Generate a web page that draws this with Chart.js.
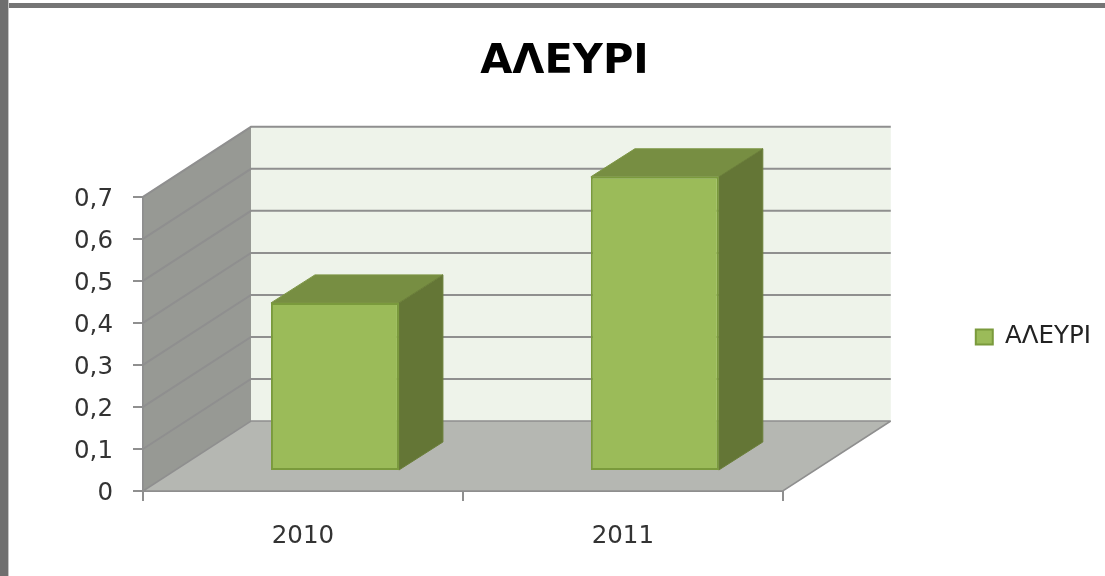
<!DOCTYPE html>
<html><head><meta charset="utf-8">
<style>
html,body{margin:0;padding:0;background:#fff;overflow:hidden}
#wrap{position:relative;width:1105px;height:576px}
canvas{position:absolute;left:0;top:0}
#t{position:absolute;left:0;top:3px;width:1105px;height:5px;background:#757575}
#l{position:absolute;left:0;top:0;width:8px;height:576px;background:#6f6f6f;border-right:1px solid #c4c4c4}
</style>
<script src="https://cdn.jsdelivr.net/npm/chart.js@4/dist/chart.umd.min.js"></script>
</head><body><div id="wrap"><div id="t"></div><div id="l"></div><canvas id="c" width="1105" height="576"></canvas></div>
<script>
const titleText = 'ΑΛΕΥΡΙ';
const categories = ['2010', '2011'];
const seriesName = 'ΑΛΕΥΡΙ';
const seriesValues = [0.4, 0.7];
const yTickLabels = ['0', '0,1', '0,2', '0,3', '0,4', '0,5', '0,6', '0,7'];

const wallDepth = {x: 108, y: -70};
const barShift = {x: 32, y: -20};
const barDepth = {x: 44, y: -28};
const axisFont = {family: '"DejaVu Sans"', size: 24.5};

function poly(ctx, pts, fill, stroke, lw) {
  ctx.beginPath();
  pts.forEach((p, i) => i ? ctx.lineTo(p[0], p[1]) : ctx.moveTo(p[0], p[1]));
  ctx.closePath();
  if (fill) { ctx.fillStyle = fill; ctx.fill(); }
  if (stroke) { ctx.strokeStyle = stroke; ctx.lineWidth = lw || 1; ctx.stroke(); }
}

const scene3d = {
  id: 'scene3d',
  afterLayout(chart) { chart.legend.top -= 14; },
  beforeDatasetsDraw(chart) {
    const ctx = chart.ctx, a = chart.chartArea, ys = chart.scales.y;
    const dx = wallDepth.x, dy = wallDepth.y, L = a.left, R = a.right, T = a.top, B = a.bottom;
    ctx.save();
    poly(ctx, [[L + dx, T + dy], [R + dx, T + dy], [R + dx, B + dy], [L + dx, B + dy]], '#eef3ea');
    poly(ctx, [[L, T], [L + dx, T + dy], [L + dx, B + dy], [L, B]], '#979994');
    poly(ctx, [[L, B], [L + dx, B + dy], [R + dx, B + dy], [R, B]], '#b5b7b2');
    ctx.strokeStyle = '#8f8f8f';
    ctx.lineWidth = 2;
    yTickLabels.forEach((_, i) => {
      const y = ys.getPixelForValue(i / 10);
      if (i > 0) {
        ctx.beginPath();
        ctx.moveTo(L, y); ctx.lineTo(L + dx, y + dy); ctx.lineTo(R + dx, y + dy);
        ctx.stroke();
      }
    });
    ctx.lineWidth = 1.5;
    ctx.beginPath();
    ctx.moveTo(L, T); ctx.lineTo(L, B); ctx.lineTo(R, B); ctx.lineTo(R + dx, B + dy);
    ctx.moveTo(L, B); ctx.lineTo(L + dx, B + dy); ctx.lineTo(R + dx, B + dy);
    ctx.stroke();
    ctx.restore();

    ctx.save();
    ctx.translate(barShift.x, barShift.y);
    chart.getDatasetMeta(0).data.forEach(b => {
      const l = b.x - b.width / 2, r = b.x + b.width / 2, t = b.y, bt = b.base;
      const ox = barDepth.x, oy = barDepth.y;
      poly(ctx, [[l, t], [l + ox, t + oy], [r + ox, t + oy], [r, t]], '#778e42', '#7d9645', 1);
      poly(ctx, [[r, t], [r + ox, t + oy], [r + ox, bt + oy], [r, bt]], '#647636', '#6b7f3a', 1);
    });
  },
  afterDatasetsDraw(chart) { chart.ctx.restore(); }
};

new Chart(document.getElementById('c'), {
  type: 'bar',
  data: {
    labels: categories,
    datasets: [{
      label: seriesName,
      data: seriesValues,
      backgroundColor: '#9bbb59',
      borderColor: '#7a9a3c',
      borderWidth: 2,
      borderSkipped: false,
      barPercentage: 0.4,
      categoryPercentage: 1,
      clip: false
    }]
  },
  plugins: [scene3d],
  options: {
    responsive: false,
    animation: false,
    layout: {padding: {left: 28, top: 0, right: 4, bottom: 0}},
    plugins: {
      tooltip: {enabled: false},
      title: {
        display: true,
        text: titleText,
        color: '#000',
        font: {family: '"DejaVu Sans"', size: 41.5, weight: 'bold'},
        padding: {top: 37, bottom: 110}
      },
      legend: {
        position: 'right',
        fullSize: false,
        labels: {
          boxWidth: 17, boxHeight: 15, padding: 10,
          color: '#222',
          font: axisFont
        }
      }
    },
    scales: {
      x: {
        afterFit(s) { s.height = 85; },
        grid: {drawOnChartArea: false, tickLength: 10, color: '#8f8f8f', lineWidth: 2, offset: true},
        border: {color: '#8f8f8f', width: 2},
        ticks: {color: '#333', font: axisFont, padding: 21, maxRotation: 0}
      },
      y: {
        min: 0, max: 0.7,
        afterFit(s) { s.width = 115; },
        afterBuildTicks(s) { s.ticks = yTickLabels.map((_, i) => ({value: i / 10})); },
        grid: {drawOnChartArea: false, tickLength: 10, color: '#8f8f8f', lineWidth: 2},
        border: {color: '#8f8f8f', width: 2},
        ticks: {color: '#333', font: axisFont, padding: 20, labelOffset: 3, callback: (v, i) => yTickLabels[i]}
      },
      spacer: {
        type: 'linear', position: 'right', display: true,
        afterFit(s) { s.width = 183; },
        grid: {display: false}, border: {display: false},
        ticks: {display: false}
      }
    }
  }
});
</script></body></html>
